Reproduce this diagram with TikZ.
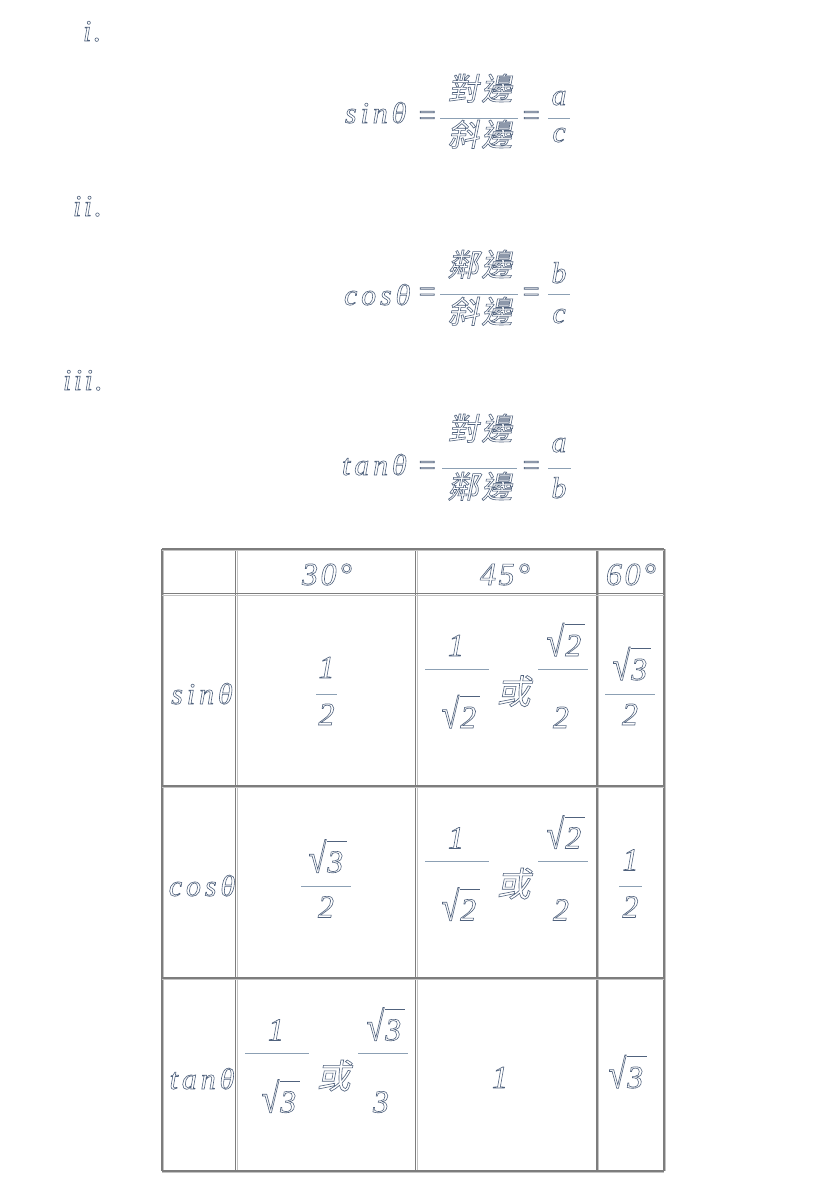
\documentclass[tikz,border=0pt]{standalone}
\usepackage{fontspec}
\newfontfamily\lat{Liberation Serif Italic}[LetterSpace=8]
\newfontfamily\latw{Liberation Serif Italic}[LetterSpace=13]
\newfontfamily\cjk{Noto Sans CJK TC}[FakeSlant=0.2, LetterSpace=8]
\definecolor{ink}{RGB}{80,98,125}
\definecolor{barc}{RGB}{140,160,180}
\definecolor{gridc}{RGB}{125,125,125}
\definecolor{gridl}{RGB}{195,195,195}
\newcommand\outl{\special{pdf:literal direct 1 Tr 0.6 w}}
\newcommand\sq[1]{\scalebox{1}[1.3]{√}\kern1pt\rlap{\raisebox{0.97em}{\rule{0.62em}{0.6pt}}}#1}
\tikzset{
 txt/.style={inner sep=0pt, outer sep=0pt, text=ink, anchor=base, font=\outl\fontsize{30}{36}\lat},
 fn/.style={txt, font=\outl\fontsize{30}{36}\latw},
 num/.style={txt, font=\outl\fontsize{32}{38}\lat},
 zh/.style={txt, font=\outl\fontsize{31}{37}\cjk},
 zhb/.style={txt, font=\outl\fontsize{34}{40}\cjk},
 fbar/.style={draw=barc, line width=1pt},
 tline/.style={draw=gridc, line width=1.1pt},
 tlight/.style={draw=gridl, line width=1pt},
}
\newcommand\dblfrac[4]{%
 \draw[fbar] (#2+9.5,#3-21) -- (#2+73,#3-21);
 \node[num] (#1a) at (#2+40.5,#3-34) {1};
 \node[num] (#1b) at (#2+43.5,#3+38) {\sq{#4}};
 \node[zhb] (#1c) at (#2+98,#3+14) {或};
 \draw[fbar] (#2+122.5,#3-21) -- (#2+172.5,#3-21);
 \node[num] (#1d) at (#2+148.5,#3-34) {\sq{#4}};
 \node[num] (#1e) at (#2+145.5,#3+38) {#4};}
\begin{document}
\begin{tikzpicture}[x=1pt,y=-1pt]
\path[use as bounding box, fill=white] (0,0) rectangle (828,1192);
% labels
\node[txt, anchor=base west] (l1) at (83,41) {i.};
\node[txt, anchor=base west] (l2) at (73,216) {ii.};
\node[txt, anchor=base west] (l3) at (63,390) {iii.};
% eq 1
\node[fn, anchor=base west] (s1) at (345,123) {sinθ};
\node[txt] (e1a) at (427,125) {=};
\draw[fbar] (440,118) -- (518,118);
\node[zh] (n1) at (480,100) {對邊};
\node[zh] (d1) at (480,146) {斜邊};
\node[txt] (e1b) at (531,125) {=};
\draw[fbar] (548,118) -- (570,118);
\node[txt] (a1) at (559,105) {a};
\node[txt] (c1) at (559,142) {c};
% eq 2
\node[fn, anchor=base west] (s2) at (344,305) {cosθ};
\node[txt] (e2a) at (427,301.5) {=};
\draw[fbar] (440,294) -- (518,294);
\node[zh] (n2) at (480,276) {鄰邊};
\node[zh] (d2) at (480,323) {斜邊};
\node[txt] (e2b) at (531,301.5) {=};
\draw[fbar] (548,294) -- (570,294);
\node[txt] (a2) at (559,283) {b};
\node[txt] (c2) at (559,323) {c};
% eq 3
\node[fn, anchor=base west] (s3) at (342,475) {tanθ};
\node[txt] (e3a) at (427,475) {=};
\draw[fbar] (442,468) -- (517,468);
\node[zh] (n3) at (480,440) {對邊};
\node[zh] (d3) at (480,498) {鄰邊};
\node[txt] (e3b) at (531,475) {=};
\draw[fbar] (548,468) -- (571,468);
\node[txt] (a3) at (559,452) {a};
\node[txt] (c3) at (559,498) {b};
% table grid (dark line with light line beside)
\foreach \xx in {162,235.5,415.5,597,664} {
  \draw[tlight] (\xx+1.5,549) -- (\xx+1.5,1171);
  \draw[tline] (\xx,549) -- (\xx,1171);}
\foreach \yy in {549,593.5,786,978,1171} {
  \draw[tlight] (162,\yy+1.5) -- (664,\yy+1.5);
  \draw[tline] (162,\yy) -- (664,\yy);}
% header
\node[num] (h30) at (327,585) {30°};
\node[num] (h45) at (505,585) {45°};
\node[num] (h60) at (631,585) {60°};
% row labels
\node[fn] (rs) at (202,704) {sinθ};
\node[fn] (rc) at (202,896) {cosθ};
\node[fn] (rt) at (202,1089) {tanθ};
% sin row (c=690)
\node[num] (s30n) at (326.5,678) {1};
\draw[fbar] (316,694) -- (337,694);
\node[num] (s30d) at (326.5,725) {2};
\dblfrac{s45}{415.5}{690}{2}
\node[num] (s60n) at (630,680) {\sq{3}};
\draw[fbar] (605,694) -- (655,694);
\node[num] (s60d) at (630,725) {2};
% cos row (c=882.5)
\node[num] (c30n) at (326,872.5) {\sq{3}};
\draw[fbar] (301,886.5) -- (351,886.5);
\node[num] (c30d) at (326,917.5) {2};
\dblfrac{c45}{415.5}{882.5}{2}
\node[num] (c60n) at (630.5,870.5) {1};
\draw[fbar] (619,886.5) -- (642,886.5);
\node[num] (c60d) at (630.5,917.5) {2};
% tan row (c=1074.5)
\dblfrac{t30}{235.5}{1074.5}{3}
\node[num] (t45) at (500,1088) {1};
\node[num] (t60) at (626,1088) {\sq{3}};
\end{tikzpicture}
\end{document}
